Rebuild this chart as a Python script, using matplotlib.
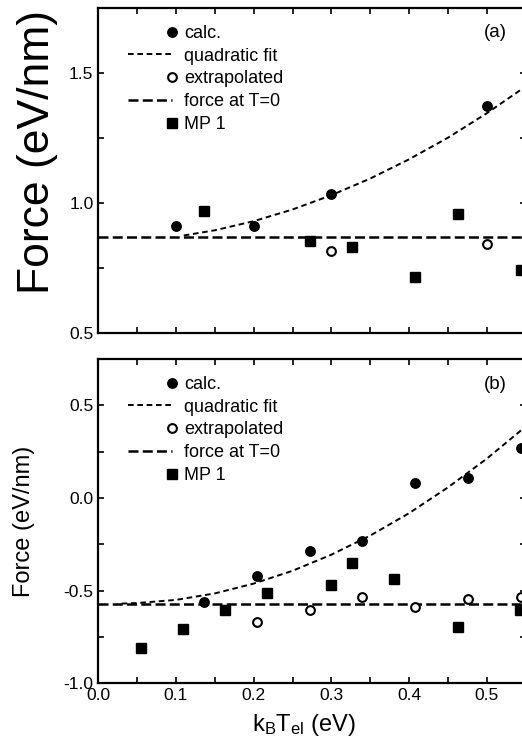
import matplotlib
matplotlib.use("Agg")
import matplotlib.pyplot as plt
from matplotlib.lines import Line2D
from matplotlib.legend_handler import HandlerLine2D
from matplotlib.ticker import MultipleLocator

plt.rcParams['font.family'] = ['Liberation Sans', 'DejaVu Sans']
plt.rcParams['mathtext.fontset'] = 'custom'
plt.rcParams['mathtext.rm'] = 'Liberation Sans'
plt.rcParams['mathtext.it'] = 'Liberation Sans:italic'
plt.rcParams['axes.unicode_minus'] = False

# --- panel (a) ---
a_calc_x = [0.1, 0.2, 0.3, 0.5]
a_calc_y = [0.912, 0.912, 1.035, 1.373]
a_extr_x = [0.3, 0.5]
a_extr_y = [0.817, 0.843]
a_mp_x = [0.136, 0.272, 0.326, 0.408, 0.463, 0.544]
a_mp_y = [0.97, 0.855, 0.83, 0.717, 0.958, 0.742]
a_fit_x = [0.11, 0.15, 0.2, 0.25, 0.3, 0.35, 0.4, 0.45, 0.5, 0.55]
a_fit_y = [0.875, 0.895, 0.930, 0.975, 1.030, 1.094, 1.168, 1.251, 1.345, 1.448]
a_t0 = 0.870

# --- panel (b) ---
b_calc_x = [0.136, 0.204, 0.272, 0.340, 0.408, 0.476, 0.544]
b_calc_y = [-0.560, -0.422, -0.287, -0.232, 0.081, 0.108, 0.272]
b_extr_x = [0.204, 0.272, 0.340, 0.408, 0.476, 0.544]
b_extr_y = [-0.671, -0.603, -0.535, -0.590, -0.546, -0.533]
b_mp_x = [0.055, 0.109, 0.163, 0.217, 0.299, 0.326, 0.381, 0.463, 0.543]
b_mp_y = [-0.811, -0.709, -0.605, -0.515, -0.467, -0.350, -0.438, -0.695, -0.605]
b_fit_x = [0.03, 0.05, 0.1, 0.15, 0.2, 0.25, 0.3, 0.35, 0.4, 0.45, 0.5, 0.55]
b_fit_y = [-0.570, -0.567, -0.550, -0.515, -0.462, -0.393, -0.306, -0.203, -0.082, 0.057, 0.212, 0.385]
b_t0 = -0.573

labels = ["calc.", "quadratic fit", "extrapolated", "force at T=0", "MP 1"]

FIT_LS = (0, (2.9, 1.9))
T0_LS = (0, (4.0, 1.7))


class RightMarker(HandlerLine2D):
    # single marker sitting at the right end of the handle, like the original
    def get_xdata(self, legend, xdescent, ydescent, width, height, fontsize):
        x = width - xdescent - 0.5
        return [x, x], [x]


def draw_panel(ax, calc_x, calc_y, extr_x, extr_y, mp_x, mp_y, fit_x, fit_y, t0):
    ax.plot(fit_x, fit_y, color='k', lw=1.4, ls=FIT_LS, zorder=2)
    ax.axhline(t0, color='k', lw=1.8, ls=T0_LS, zorder=2)
    ax.plot(calc_x, calc_y, 'o', color='k', ms=6.8, clip_on=False, zorder=3)
    ax.plot(extr_x, extr_y, 'o', mfc='white', mec='k', mew=1.5, ms=6.3, clip_on=False, zorder=3)
    ax.plot(mp_x, mp_y, 's', color='k', ms=6.6, clip_on=False, zorder=3)

    handles = [
        Line2D([], [], marker='o', color='k', ls='none', ms=6.8),
        Line2D([], [], color='k', lw=1.4, ls=FIT_LS),
        Line2D([], [], marker='o', mfc='white', mec='k', mew=1.5, ls='none', ms=6.3),
        Line2D([], [], color='k', lw=1.8, ls=T0_LS),
        Line2D([], [], marker='s', color='k', ls='none', ms=6.6),
    ]
    hmap = {h: RightMarker(numpoints=1) for h in (handles[0], handles[2], handles[4])}
    ax.legend(handles, labels, loc='upper left', bbox_to_anchor=(0.07, 0.948),
              frameon=False, fontsize=13, handlelength=2.45, handletextpad=0.65,
              labelspacing=0.32, borderpad=0, borderaxespad=0, handler_map=hmap)

    ax.set_xlim(0, 0.55)
    ax.xaxis.set_major_locator(MultipleLocator(0.1))
    ax.xaxis.set_minor_locator(MultipleLocator(0.05))
    ax.yaxis.set_minor_locator(MultipleLocator(0.25))
    ax.tick_params(which='both', direction='in', top=True, right=True,
                   length=4, width=1.2, labelsize=12.5)
    for s in ax.spines.values():
        s.set_linewidth(1.6)


fig = plt.figure(figsize=(5.22, 7.39), dpi=100)
ax1 = fig.add_axes([0.1883, 0.5494, 0.8186, 0.4398])
ax2 = fig.add_axes([0.1883, 0.0754, 0.8186, 0.4388])

draw_panel(ax1, a_calc_x, a_calc_y, a_extr_x, a_extr_y, a_mp_x, a_mp_y, a_fit_x, a_fit_y, a_t0)
ax1.set_ylim(0.5, 1.75)
ax1.yaxis.set_major_locator(MultipleLocator(0.5))
ax1.tick_params(labelbottom=False)
ax1.set_ylabel("Force (eV/nm)", fontsize=32)
ax1.yaxis.set_label_coords(-0.094, 0.557)
ax1.text(0.93, 0.926, "(a)", transform=ax1.transAxes, fontsize=13.5, ha='center', va='center')

draw_panel(ax2, b_calc_x, b_calc_y, b_extr_x, b_extr_y, b_mp_x, b_mp_y, b_fit_x, b_fit_y, b_t0)
ax2.set_ylim(-1.0, 0.75)
ax2.yaxis.set_major_locator(MultipleLocator(0.5))
ax2.set_ylabel("Force (eV/nm)", fontsize=17)
ax2.yaxis.set_label_coords(-0.148, 0.5)
ax2.set_xlabel(r"k$_\mathrm{B}$T$_\mathrm{el}$ (eV)", fontsize=17)
ax2.xaxis.set_label_coords(0.481, -0.089)
ax2.text(0.93, 0.92, "(b)", transform=ax2.transAxes, fontsize=13.5, ha='center', va='center')

fig.savefig("out.png", dpi=100)
